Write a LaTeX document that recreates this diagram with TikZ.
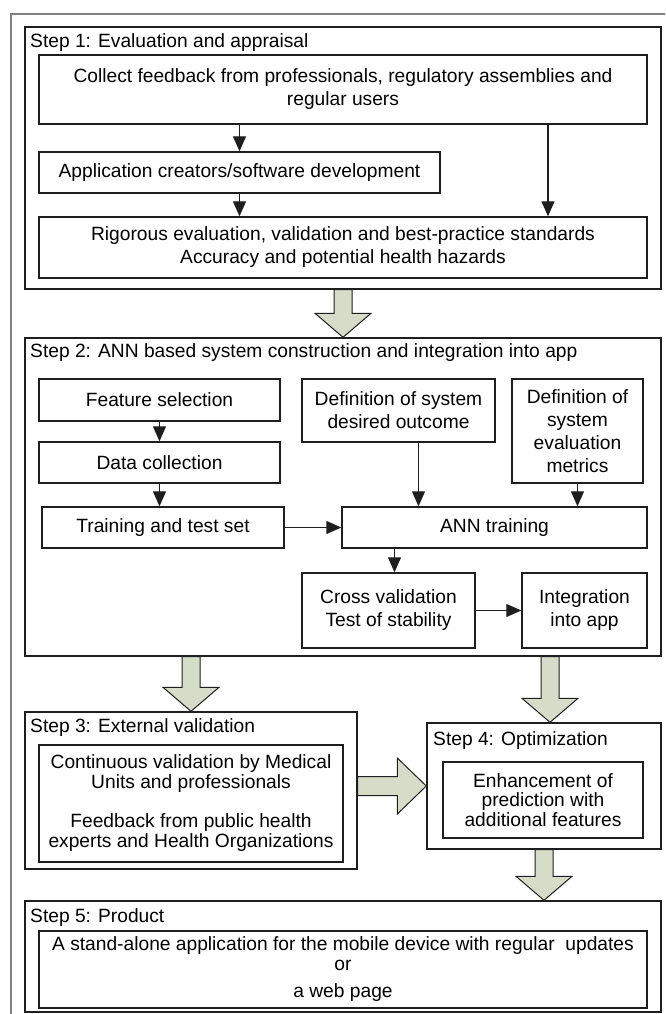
\documentclass[tikz,border=0pt]{standalone}
\usepackage{fontspec}
\setmainfont{Liberation Sans}
\usetikzlibrary{arrows.meta,positioning,calc}

\definecolor{arrowfill}{RGB}{214,220,200}
\definecolor{boxline}{RGB}{30,30,30}

\newcommand{\downblock}[2]{%
  \filldraw[blockarrow] let \p1=(#1), \p2=(#2) in
    (\x1-9pt,\y1) -- (\x1-9pt,\y2+24pt) -- (\x1-28pt,\y2+24pt) -- (\x1,\y2)
    -- (\x1+28pt,\y2+24pt) -- (\x1+9pt,\y2+24pt) -- (\x1+9pt,\y1) -- cycle;}
\newcommand{\rightblock}[2]{%
  \filldraw[blockarrow] let \p1=(#1), \p2=(#2) in
    (\x1,\y1+9.5pt) -- (\x2-29pt,\y1+9.5pt) -- (\x2-29pt,\y1+28pt) -- (\x2,\y1)
    -- (\x2-29pt,\y1-28pt) -- (\x2-29pt,\y1-9.5pt) -- (\x1,\y1-9.5pt) -- cycle;}

\begin{document}
\begin{tikzpicture}[x=1pt,y=-1pt,
  every node/.style={font=\fontsize{19.2}{23}\selectfont},
  stepbox/.style={draw=boxline,line width=1.4pt,inner sep=0pt},
  taskbox/.style={draw=boxline,line width=1.4pt,align=center,inner sep=0pt},
  steplabel/.style={anchor=west,inner sep=0pt},
  thinarrow/.style={draw=boxline,line width=1.2pt,-{Triangle[length=15pt,width=13pt]}},
  blockarrow/.style={fill=arrowfill,draw=boxline,line width=1pt,line join=miter}]
  \useasboundingbox (0,0) rectangle (665,1014);
  \clip (0,0) rectangle (665,1014);
  \draw[gray,line width=1.2pt] (11,14) rectangle (700,1050);

  \node[stepbox,minimum width=636pt,minimum height=262pt] (step1) at (343,158) {};
  \node[steplabel] (step1label) at (30,43) {Step 1: Evaluation and appraisal};
  \node[taskbox,minimum width=608pt,minimum height=69pt] (collect) at (343,89.5) {Collect feedback from professionals, regulatory assemblies and\\regular users};
  \node[taskbox,minimum width=401pt,minimum height=41pt] (appdev) at (239.5,172.5) {Application creators/software development};
  \node[taskbox,minimum width=608pt,minimum height=61pt] (rigor) at (343,247.5) {Rigorous evaluation, validation and best-practice standards\\Accuracy and potential health hazards};

  \node[stepbox,minimum width=636pt,minimum height=318pt] (step2) at (343,497) {};
  \node[steplabel] (step2label) at (30,353) {Step 2: ANN based system construction and integration into app};
  \node[taskbox,minimum width=241pt,minimum height=42pt] (feat) at (159.5,400) {Feature selection};
  \node[taskbox,minimum width=241pt,minimum height=41pt] (datacol) at (159.5,462.5) {Data collection};
  \node[taskbox,minimum width=242pt,minimum height=41pt] (trainset) at (163,527.5) {Training and test set};
  \node[taskbox,minimum width=193pt,minimum height=63pt] (outcome) at (398.5,410.5) {Definition of system\\desired outcome};
  \node[taskbox,minimum width=131pt,minimum height=104pt] (metrics) at (577.5,431) {Definition of\\system\\evaluation\\metrics};
  \node[taskbox,minimum width=305pt,minimum height=41pt] (anntrain) at (494.5,527.5) {ANN training};
  \node[taskbox,minimum width=173pt,minimum height=75pt] (crossval) at (388.5,610.5) {Cross validation\\Test of stability};
  \node[taskbox,minimum width=125pt,minimum height=75pt] (integ) at (584.5,610.5) {Integration\\into app};

  \node[stepbox,minimum width=332pt,minimum height=157pt] (step3) at (191,790.5) {};
  \node[steplabel] (step3label) at (30,728) {Step 3: External validation};
  \node[taskbox,minimum width=304pt,minimum height=117pt,font=\fontsize{19.2}{20}\selectfont] (contval) at (191,803.5) {Continuous validation by Medical\\Units and professionals\\[19pt]Feedback from public health\\experts and Health Organizations};

  \node[stepbox,minimum width=234pt,minimum height=126pt] (step4) at (544,786) {};
  \node[steplabel] (step4label) at (433,741) {Step 4: Optimization};
  \node[taskbox,minimum width=200pt,minimum height=76pt,font=\fontsize{19.2}{19.5}\selectfont] (enhance) at (543,800) {Enhancement of\\prediction with\\additional features};

  \node[stepbox,minimum width=636pt,minimum height=111pt] (step5) at (343,956.5) {};
  \node[steplabel] (step5label) at (30,918) {Step 5: Product};
  \node[taskbox,minimum width=608pt,minimum height=77pt,font=\fontsize{19.2}{20}\selectfont] (product) at (343,969.5) {A stand-alone application for the mobile device with regular\ \ updates\\or\\[7pt]a web page};

  \draw[thinarrow] (collect.south -| appdev.north) -- (appdev.north);
  \draw[thinarrow] ([xshift=205pt]collect.south) -- ([xshift=205pt]rigor.north);
  \draw[thinarrow] (appdev.south) -- (appdev.south |- rigor.north);
  \draw[thinarrow] (feat.south) -- (datacol.north);
  \draw[thinarrow] (datacol.south) -- (datacol.south |- trainset.north);
  \draw[thinarrow] ([xshift=20pt]outcome.south) -- ([xshift=20pt]outcome.south |- anntrain.north);
  \draw[thinarrow] (metrics.south) -- (metrics.south |- anntrain.north);
  \draw[thinarrow] (trainset.east) -- (anntrain.west);
  \draw[thinarrow] ([xshift=6pt]crossval.north |- anntrain.south) -- ([xshift=6pt]crossval.north);
  \draw[thinarrow] (crossval.east) -- (integ.west);

  \coordinate (s4top) at ([xshift=6pt]step4.north);
  \downblock{step1.south}{step2.north}
  \downblock{step2.south -| step3.north}{step3.north}
  \downblock{step2.south -| s4top}{s4top}
  \downblock{step4.south}{step5.north -| step4.south}
  \rightblock{step3.east |- step4.west}{step4.west}
\end{tikzpicture}
\end{document}
